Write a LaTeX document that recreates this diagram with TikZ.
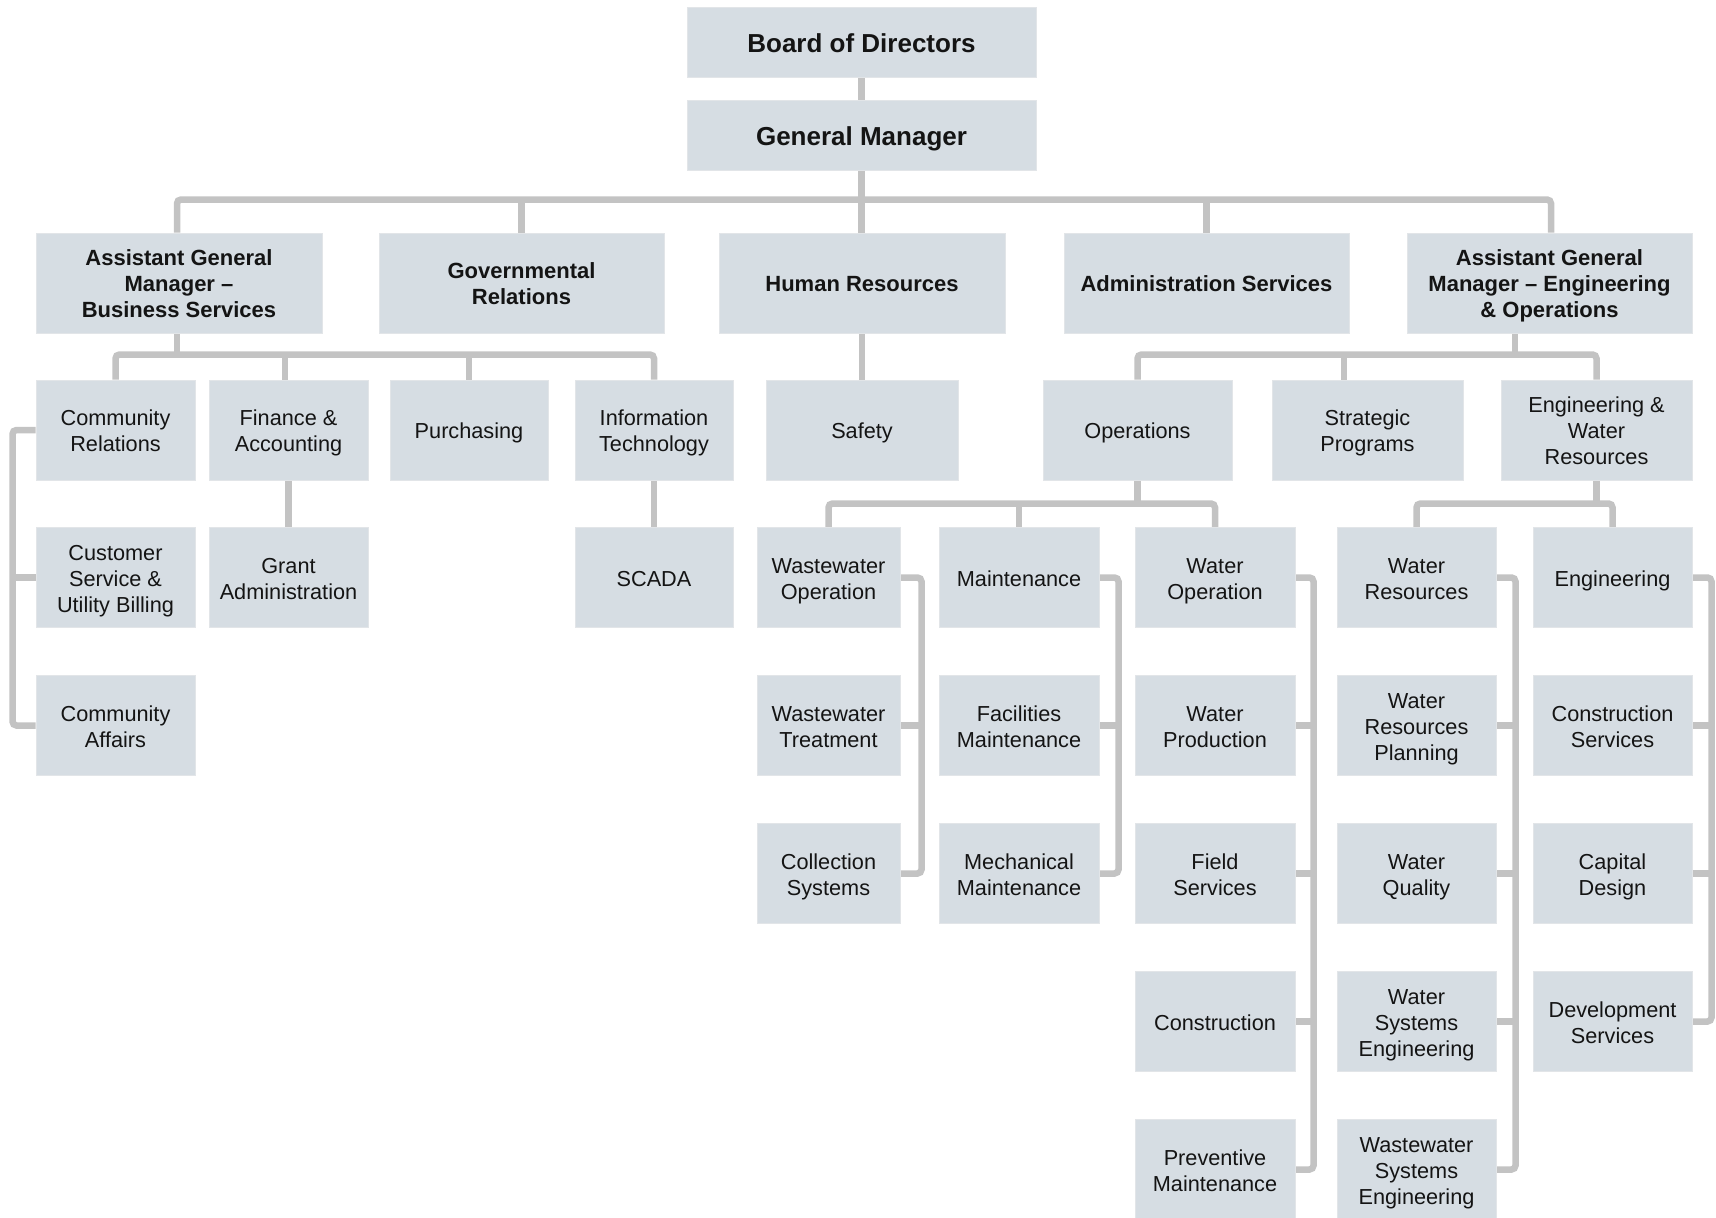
\documentclass[tikz,border=0pt]{standalone}
\usepackage{fontspec}
\setmainfont{Liberation Sans}
\usetikzlibrary{calc}
\definecolor{boxfill}{RGB}{214,221,227}
\definecolor{boxedge}{RGB}{226,229,232}
\definecolor{linecol}{RGB}{195,195,195}
\definecolor{txt}{RGB}{20,20,20}
\newcommand\orgstrut{\rule[-4.3pt]{0pt}{26pt}}
\newcommand\orgtext[1]{\vbox{\baselineskip=26pt\lineskiplimit=-100pt\lineskip=0pt\let\\\cr
  \halign{\hfil\orgstrut##\hfil\cr#1\crcr}}}
\pgfdeclarelayer{bg}
\pgfsetlayers{bg,main}
\tikzset{
  orgbox/.style={draw=boxedge, line width=1pt, fill=boxfill, text=txt,
    inner sep=0pt, minimum height=100pt, font=\fontsize{21.7}{26}\selectfont},
  topbox/.style={draw=boxedge, line width=1pt, fill=boxfill, text=txt,
    inner sep=0pt, font=\bfseries\fontsize{26}{30}\selectfont, minimum height=70pt, minimum width=349pt,
    text height=21.6pt, text depth=0pt},
  headbox/.style={orgbox, font=\bfseries\fontsize{22}{26}\selectfont, minimum width=285pt},
  conn/.style={draw=linecol, line width=6.5pt, rounded corners=4pt},
}
\begin{document}
\begin{tikzpicture}[x=1pt,y=-1pt]
\useasboundingbox (0,0) rectangle (1716,1218);
% top
\node[topbox] (board) at (861.5,42) {Board of Directors};
\node[topbox] (gm) at (861.5,135) {General Manager};
% level 2
\node[headbox, minimum width=286pt] (agmbs) at (179,283) {\orgtext{Assistant General\\Manager \textendash\\Business Services}};
\node[headbox] (gov) at (521.5,283) {\orgtext{Governmental\\Relations}};
\node[headbox, minimum width=286pt] (hr) at (862,283) {\orgtext{Human Resources}};
\node[headbox] (admin) at (1206.5,283) {\orgtext{Administration Services}};
\node[headbox] (agmeo) at (1549.5,283) {\orgtext{Assistant General\\Manager \textendash\ Engineering\\\& Operations}};
% level 3
\node[orgbox, minimum width=159pt] (cr) at (115.5,430) {\orgtext{Community\\Relations}};
\node[orgbox, minimum width=159pt] (fa) at (288.5,430) {\orgtext{Finance \&\\Accounting}};
\node[orgbox, minimum width=158pt] (pur) at (469,430) {\orgtext{Purchasing}};
\node[orgbox, minimum width=158pt] (it) at (654,430) {\orgtext{Information\\Technology}};
\node[orgbox, minimum width=192pt] (safety) at (862,430) {\orgtext{Safety}};
\node[orgbox, minimum width=189pt] (ops) at (1137.5,430) {\orgtext{Operations}};
\node[orgbox, minimum width=191pt] (sp) at (1367.5,430) {\orgtext{Strategic\\Programs}};
\node[orgbox, minimum width=191pt] (ewr) at (1596.5,430) {\orgtext{Engineering \&\\Water\\Resources}};
% level 4
\node[orgbox, minimum width=159pt] (csub) at (115.5,577.5) {\orgtext{Customer\\Service \&\\Utility Billing}};
\node[orgbox, minimum width=159pt] (grant) at (288.5,577.5) {\orgtext{Grant\\Administration}};
\node[orgbox, minimum width=158pt] (scada) at (654,577.5) {\orgtext{SCADA}};
\node[orgbox, minimum width=143pt] (wwop) at (828.5,577.5) {\orgtext{Wastewater\\Operation}};
\node[orgbox, minimum width=160pt] (maint) at (1019,577.5) {\orgtext{Maintenance}};
\node[orgbox, minimum width=160pt] (wop) at (1215,577.5) {\orgtext{Water\\Operation}};
\node[orgbox, minimum width=159pt] (wres) at (1416.5,577.5) {\orgtext{Water\\Resources}};
\node[orgbox, minimum width=159pt] (eng) at (1612.5,577.5) {\orgtext{Engineering}};
% level 5
\node[orgbox, minimum width=159pt] (ca) at (115.5,725.5) {\orgtext{Community\\Affairs}};
\node[orgbox, minimum width=143pt] (wwt) at (828.5,725.5) {\orgtext{Wastewater\\Treatment}};
\node[orgbox, minimum width=160pt] (fm) at (1019,725.5) {\orgtext{Facilities\\Maintenance}};
\node[orgbox, minimum width=160pt] (wprod) at (1215,725.5) {\orgtext{Water\\Production}};
\node[orgbox, minimum width=159pt] (wrp) at (1416.5,725.5) {\orgtext{Water\\Resources\\Planning}};
\node[orgbox, minimum width=159pt] (cs) at (1612.5,725.5) {\orgtext{Construction\\Services}};
% level 6
\node[orgbox, minimum width=143pt] (colsys) at (828.5,873.5) {\orgtext{Collection\\Systems}};
\node[orgbox, minimum width=160pt] (mm) at (1019,873.5) {\orgtext{Mechanical\\Maintenance}};
\node[orgbox, minimum width=160pt] (fs) at (1215,873.5) {\orgtext{Field\\Services}};
\node[orgbox, minimum width=159pt] (wq) at (1416.5,873.5) {\orgtext{Water\\Quality}};
\node[orgbox, minimum width=159pt] (cd) at (1612.5,873.5) {\orgtext{Capital\\Design}};
% level 7
\node[orgbox, minimum width=160pt] (constr) at (1215,1021.5) {\orgtext{Construction}};
\node[orgbox, minimum width=159pt] (wse) at (1416.5,1021.5) {\orgtext{Water\\Systems\\Engineering}};
\node[orgbox, minimum width=159pt] (ds) at (1612.5,1021.5) {\orgtext{Development\\Services}};
% level 8
\node[orgbox, minimum width=160pt] (pm) at (1215,1169.5) {\orgtext{Preventive\\Maintenance}};
\node[orgbox, minimum width=159pt] (wwse) at (1416.5,1169.5) {\orgtext{Wastewater\\Systems\\Engineering}};

\begin{pgfonlayer}{bg}
\draw[conn] (board.south) -- (gm.north);
\draw[conn] (gm.south) -- (gm.south |- hr.north);
\draw[conn] ($(agmbs.north)+(-2,0)$) -- ++(0,-33) -| ($(agmeo.north)+(1.5,0)$);
\draw[conn] (gov.north) -- ++(0,-33);
\draw[conn] (admin.north) -- ++(0,-33);
% business services
\draw[conn] ($(agmbs.south)+(-2,0)$) -- ++(0,22);
\draw[conn] (cr.north) -- ++(0,-25) -| (it.north);
\draw[conn] ($(fa.north)+(-3.5,0)$) -- ++(0,-25);
\draw[conn] (pur.north) -- ++(0,-25);
\draw[conn] (fa.south) -- (grant.north);
\draw[conn] (it.south) -- (scada.north);
\draw[conn] (cr.west) -- ++(-23,0) |- (ca.west);
\draw[conn] (csub.west) -- ++(-23,0);
\draw[conn] (hr.south) -- (safety.north);
% engineering & operations
\draw[conn] ($(agmeo.south)+(-34.5,0)$) -- ++(0,22);
\draw[conn] (ops.north) -- ++(0,-25) -| (ewr.north);
\draw[conn] ($(sp.north)+(-23.5,0)$) -- ++(0,-25);
\draw[conn] (ops.south) -- ++(0,24);
\draw[conn] (wwop.north) -- ++(0,-23.5) -| (wop.north);
\draw[conn] (maint.north) -- ++(0,-23.5);
\draw[conn] (ewr.south) -- ++(0,24);
\draw[conn] (wres.north) -- ++(0,-23.5) -| (eng.north);
% side spines
\draw[conn] (wwop.east) -- ++(21,0) |- (colsys.east);
\draw[conn] (wwt.east) -- ++(21,0);
\draw[conn] (maint.east) -- ++(19,0) |- (mm.east);
\draw[conn] (fm.east) -- ++(19,0);
\draw[conn] (wop.east) -- ++(18,0) |- (pm.east);
\draw[conn] (wprod.east) -- ++(18,0);
\draw[conn] (fs.east) -- ++(18,0);
\draw[conn] (constr.east) -- ++(18,0);
\draw[conn] (wres.east) -- ++(19,0) |- (wwse.east);
\draw[conn] (wrp.east) -- ++(19,0);
\draw[conn] (wq.east) -- ++(19,0);
\draw[conn] (wse.east) -- ++(19,0);
\draw[conn] (eng.east) -- ++(19,0) |- (ds.east);
\draw[conn] (cs.east) -- ++(19,0);
\draw[conn] (cd.east) -- ++(19,0);
\end{pgfonlayer}
\end{tikzpicture}
\end{document}
